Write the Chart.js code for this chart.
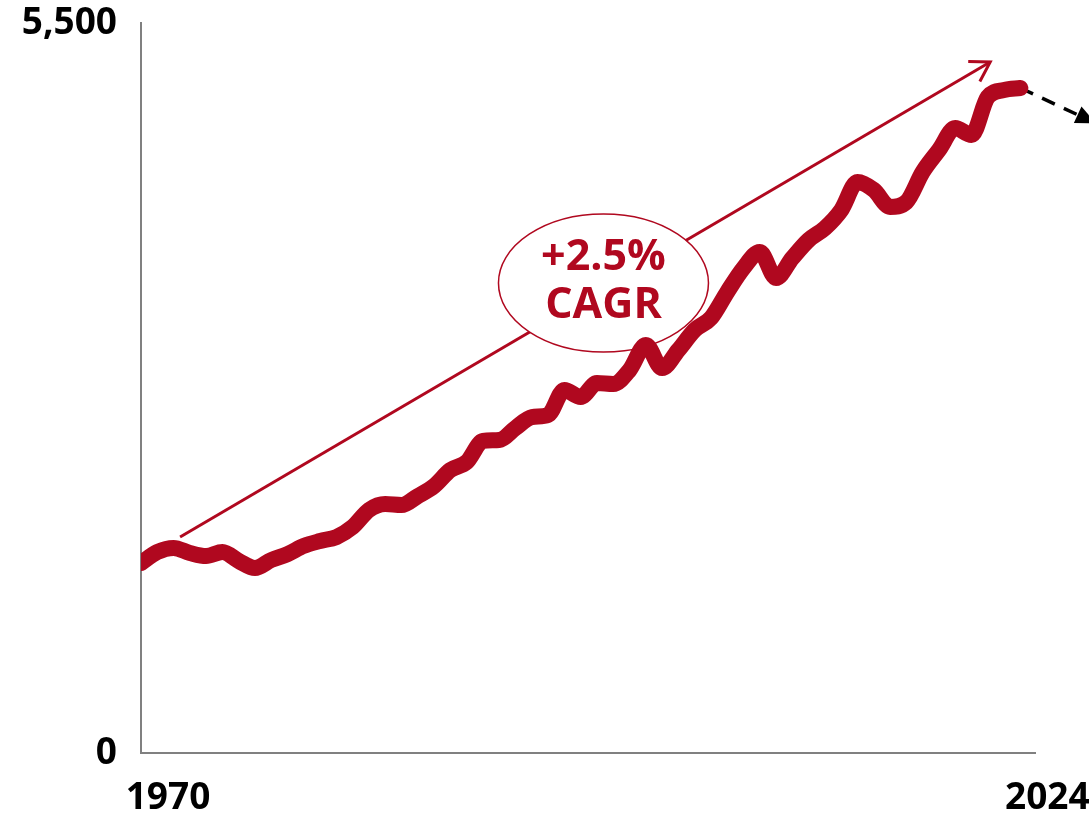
<!DOCTYPE html>
<html>
<head>
<meta charset="utf-8">
<script src="https://cdn.jsdelivr.net/npm/chart.js@4/dist/chart.umd.min.js"></script>
<style>
  html, body { margin: 0; padding: 0; background: #fff; }
  #wrap { width: 1089px; height: 815px; position: relative; }
</style>
</head>
<body>
<div id="wrap"><canvas id="grafico"></canvas></div>
<script>
// dados
const anos = [1970, 1971, 1972, 1973, 1974, 1975, 1976, 1977, 1978, 1979,
              1980, 1981, 1982, 1983, 1984, 1985, 1986, 1987, 1988, 1989,
              1990, 1991, 1992, 1993, 1994, 1995, 1996, 1997, 1998, 1999,
              2000, 2001, 2002, 2003, 2004, 2005, 2006, 2007, 2008, 2009,
              2010, 2011, 2012, 2013, 2014, 2015, 2016, 2017, 2018, 2019,
              2020, 2021, 2022, 2023, 2024];
const valores = [1431, 1514, 1545, 1507, 1484, 1514, 1447, 1394, 1454, 1499,
                 1560, 1597, 1627, 1703, 1831, 1876, 1868, 1936, 2012, 2132,
                 2192, 2351, 2358, 2449, 2531, 2547, 2735, 2682, 2788, 2780,
                 2885, 3074, 2900, 3036, 3187, 3277, 3473, 3654, 3775, 3579,
                 3729, 3865, 3955, 4091, 4302, 4242, 4114, 4151, 4377, 4543,
                 4709, 4656, 4942, 4995, 5010];
const anosProjecao = [2024, 2028.3];
const valoresProjecao = [5010, 4764];
const anosCagr = [1972.4, 2022.15];
const valoresCagr = [1627, 5206];
const textoCagr = ['+2.5%', 'CAGR'];
const ticksX = [1970, 2024];
const ticksY = [0, 5500];

const vermelho = '#B0081F';

const toPoints = (xs, ys) => xs.map((x, i) => ({ x: x, y: ys[i] }));

// pontas de seta, elipse do CAGR
const setasPlugin = {
    id: 'setas',
    afterDatasetDraw(chart, args) {
        const ctx = chart.ctx;
        const sx = chart.scales.x, sy = chart.scales.y;

        if (args.index === 1) {
            // triângulo da projeção
            const n = anosProjecao.length;
            const xa = sx.getPixelForValue(anosProjecao[n - 2]), ya = sy.getPixelForValue(valoresProjecao[n - 2]);
            const xb = sx.getPixelForValue(anosProjecao[n - 1]), yb = sy.getPixelForValue(valoresProjecao[n - 1]);
            const a = Math.atan2(yb - ya, xb - xa);
            ctx.save();
            ctx.translate(xb, yb);
            ctx.rotate(a);
            ctx.fillStyle = '#000';
            ctx.beginPath();
            ctx.moveTo(6, 0);
            ctx.lineTo(-14, -9);
            ctx.lineTo(-14, 9);
            ctx.closePath();
            ctx.fill();
            ctx.restore();
            return;
        }
        if (args.index !== 2) return;

        const x1 = sx.getPixelForValue(anosCagr[0]), y1 = sy.getPixelForValue(valoresCagr[0]);
        const x2 = sx.getPixelForValue(anosCagr[1]), y2 = sy.getPixelForValue(valoresCagr[1]);
        const ang = Math.atan2(y2 - y1, x2 - x1);
        ctx.save();
        ctx.strokeStyle = vermelho;
        ctx.lineWidth = 3;
        ctx.beginPath();
        ctx.moveTo(x2 - 22 * Math.cos(ang - 0.55), y2 - 22 * Math.sin(ang - 0.55));
        ctx.lineTo(x2, y2);
        ctx.lineTo(x2 - 22 * Math.cos(ang + 0.55), y2 - 22 * Math.sin(ang + 0.55));
        ctx.stroke();

        // elipse
        const cx = sx.getPixelForValue(1998.4), cy = sy.getPixelForValue(3541);
        ctx.beginPath();
        ctx.ellipse(cx, cy, 105, 69, 0, 0, Math.PI * 2);
        ctx.fillStyle = '#fff';
        ctx.fill();
        ctx.lineWidth = 1.5;
        ctx.stroke();
        ctx.fillStyle = vermelho;
        ctx.font = 'bold 43px "Open Sans"';
        ctx.textAlign = 'center';
        ctx.textBaseline = 'middle';
        ctx.fillText(textoCagr[0], cx, cy - 25);
        ctx.fillText(textoCagr[1], cx, cy + 23);
        ctx.restore();
    }
};

const ctxGrafico = document.getElementById('grafico').getContext('2d');
new Chart(ctxGrafico, {
    type: 'line',
    data: {
        datasets: [{
            data: toPoints(anos, valores),
            borderColor: vermelho,
            borderWidth: 16,
            borderCapStyle: 'round',
            borderJoinStyle: 'round',
            cubicInterpolationMode: 'monotone',
            pointRadius: 0,
            order: 1
        }, {
            data: toPoints(anosProjecao, valoresProjecao),
            borderColor: '#000',
            borderWidth: 3.5,
            borderDash: [14, 10],
            pointRadius: 0,
            clip: false,
            order: 2
        }, {
            data: toPoints(anosCagr, valoresCagr),
            borderColor: vermelho,
            borderWidth: 3,
            pointRadius: 0,
            clip: false,
            order: 3
        }]
    },
    options: {
        responsive: true,
        maintainAspectRatio: false,
        animation: false,
        layout: { padding: { top: 23, right: 54, left: 0, bottom: 0 } },
        plugins: { legend: { display: false }, tooltip: { enabled: false } },
        scales: {
            x: {
                type: 'linear',
                min: 1970,
                max: 2024.9,
                afterBuildTicks: s => { s.ticks = ticksX.map(v => ({ value: v })); },
                afterFit: s => { s.height = 62; s.paddingRight = 0; s.paddingLeft = 0; },
                grid: { display: false, drawTicks: false },
                border: { display: true, color: '#808080', width: 2 },
                ticks: {
                    color: '#000',
                    font: { family: 'Open Sans', size: 37, weight: 'bold' },
                    padding: 23,
                    labelOffset: 27,
                    maxRotation: 0,
                    callback: v => String(v)
                }
            },
            y: {
                min: 0,
                max: 5500,
                afterBuildTicks: s => { s.ticks = ticksY.map(v => ({ value: v })); },
                afterFit: s => { s.width = 141; s.paddingTop = 0; s.paddingBottom = 0; },
                grid: { display: false, drawTicks: false },
                border: { display: true, color: '#808080', width: 2 },
                ticks: {
                    color: '#000',
                    font: { family: 'Open Sans', size: 37, weight: 'bold' },
                    padding: 24,
                    callback: v => v.toLocaleString('en-US')
                }
            }
        }
    },
    plugins: [setasPlugin]
});
</script>
</body>
</html>
